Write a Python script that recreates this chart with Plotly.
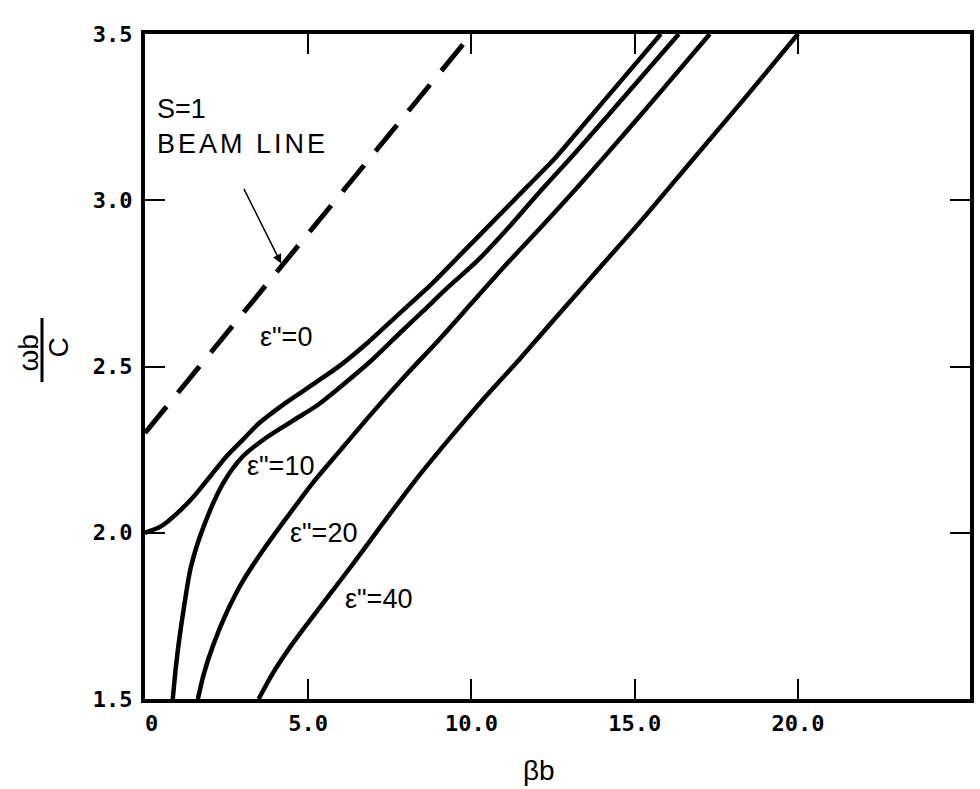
import plotly.graph_objects as go

# Normalized frequency (wb/c) versus normalized wavenumber (βb)
beam_x = [0.0, 10.0]
beam_y = [2.30, 3.50]

eps0_x = [0.0, 0.5, 1.0, 1.5, 2.0, 2.5, 3.0, 3.5, 4.3, 5.2, 6.0, 6.8, 7.8, 8.8, 9.7,
          10.7, 11.7, 12.5, 13.2, 14.5, 15.8]
eps0_y = [2.00, 2.02, 2.06, 2.11, 2.17, 2.23, 2.28, 2.33, 2.39, 2.45, 2.505, 2.57, 2.66,
          2.75, 2.84, 2.94, 3.04, 3.12, 3.20, 3.35, 3.50]

eps10_x = [0.85, 0.95, 1.05, 1.2, 1.4, 1.8, 2.4, 3.0, 3.7, 4.5, 5.3, 6.0, 6.9, 7.8, 8.5,
           9.3, 10.2, 11.2, 12.0, 13.2, 14.8, 16.35]
eps10_y = [1.50, 1.60, 1.68, 1.78, 1.895, 2.02, 2.15, 2.23, 2.285, 2.335, 2.385, 2.44,
           2.515, 2.60, 2.665, 2.74, 2.82, 2.925, 3.015, 3.145, 3.325, 3.50]

eps20_x = [1.62, 1.8, 2.1, 2.5, 3.0, 3.6, 4.3, 5.1, 6.0, 7.0, 8.0, 9.0, 10.0, 11.0, 12.0,
           13.3, 14.6, 16.0, 17.3]
eps20_y = [1.50, 1.575, 1.665, 1.76, 1.855, 1.945, 2.04, 2.145, 2.25, 2.365, 2.475, 2.58,
           2.69, 2.80, 2.905, 3.045, 3.19, 3.35, 3.50]

eps40_x = [3.48, 3.9, 4.4, 5.0, 5.7, 6.4, 7.3, 8.3, 9.3, 10.3, 11.5, 12.7, 14.0, 15.3,
           16.8, 18.4, 20.0]
eps40_y = [1.50, 1.575, 1.65, 1.73, 1.82, 1.91, 2.03, 2.16, 2.28, 2.395, 2.525, 2.66,
           2.805, 2.95, 3.125, 3.31, 3.50]

curve_labels = ['ε"=0', 'ε"=10', 'ε"=20', 'ε"=40']

x_tickvals = [0, 5, 10, 15, 20]
x_ticktext = ["\u00a00", "5.0", "10.0", "15.0", "20.0"]
y_tickvals = [1.5, 2.0, 2.5, 3.0, 3.5]
y_ticktext = ["1.5", "2.0", "2.5", "3.0", "3.5"]

W, H = 980, 789
L, R, T, B = 145, 6, 34, 90
PW, PH = W - L - R, H - T - B


def paper(px, py):
    """Convert page pixel coordinates to paper coordinates."""
    return (px - L) / PW, (H - B - py) / PH


label_font = dict(family="Liberation Sans", size=27, color="black")
tick_font = dict(family="DejaVu Sans Mono", size=22, color="black", weight="bold")
title_font = dict(family="Liberation Sans", size=28, color="black")

fig = go.Figure()

fig.add_trace(go.Scatter(x=beam_x, y=beam_y, mode="lines",
                         line=dict(color="black", width=5, dash="34px,18px"),
                         hoverinfo="skip"))

for cx, cy in [(eps0_x, eps0_y), (eps10_x, eps10_y), (eps20_x, eps20_y), (eps40_x, eps40_y)]:
    fig.add_trace(go.Scatter(x=cx, y=cy, mode="lines",
                             line=dict(color="black", width=4.5, shape="spline", smoothing=0.8),
                             hoverinfo="skip"))

# curve labels
label_pos = [(4.32, 2.59), (4.15, 2.20), (5.46, 2.00), (7.16, 1.80)]
for text, (lx, ly) in zip(curve_labels, label_pos):
    fig.add_annotation(x=lx, y=ly, text=text, showarrow=False, font=label_font,
                       xanchor="center", yanchor="middle")

# beam line note with arrow
fig.add_annotation(x=0.30, y=3.223, xanchor="left", yanchor="middle", align="left",
                   text='S=1<br><span style="letter-spacing:3px">BEAM LINE</span>',
                   showarrow=False, font=label_font)
fig.add_annotation(x=4.17, y=2.81, text="", showarrow=True, arrowhead=2, arrowsize=1.2,
                   arrowwidth=1.5, arrowcolor="black", ax=-38, ay=-76, standoff=0)

# x axis title
tx, ty = paper(541, 770)
fig.add_annotation(xref="paper", yref="paper", x=tx, y=ty, text="βb", showarrow=False,
                   xanchor="center", yanchor="middle", font=title_font)

# y axis title drawn as a rotated fraction
nx, ny = paper(27, 353)
fig.add_annotation(xref="paper", yref="paper", x=nx, y=ny, text="ωb", textangle=-90,
                   xanchor="center", yanchor="middle", showarrow=False, font=title_font)
cx_, cy_ = paper(58, 347)
fig.add_annotation(xref="paper", yref="paper", x=cx_, y=cy_, text="C", textangle=-90,
                   xanchor="center", yanchor="middle", showarrow=False, font=title_font)
bx0, by0 = paper(41.5, 318)
bx1, by1 = paper(41.5, 382)
fig.add_shape(type="line", xref="paper", yref="paper", x0=bx0, y0=by0, x1=bx1, y1=by1,
              line=dict(color="black", width=3))

axis_common = dict(showgrid=False, zeroline=False, showline=True, linecolor="black",
                   linewidth=4, mirror="ticks", ticks="inside", ticklen=20, tickwidth=2,
                   tickcolor="black", tickfont=tick_font)

fig.update_xaxes(range=[0, 25.27], tickmode="array", tickvals=x_tickvals,
                 ticktext=x_ticktext, ticklabelstandoff=2, **axis_common)
fig.update_yaxes(range=[1.5, 3.5], tickmode="array", tickvals=y_tickvals,
                 ticktext=y_ticktext, ticklabelstandoff=4, **axis_common)

fig.update_layout(width=W, height=H, margin=dict(l=L, r=R, t=T, b=B),
                  plot_bgcolor="white", paper_bgcolor="white", showlegend=False)

fig.write_html("out.html")
